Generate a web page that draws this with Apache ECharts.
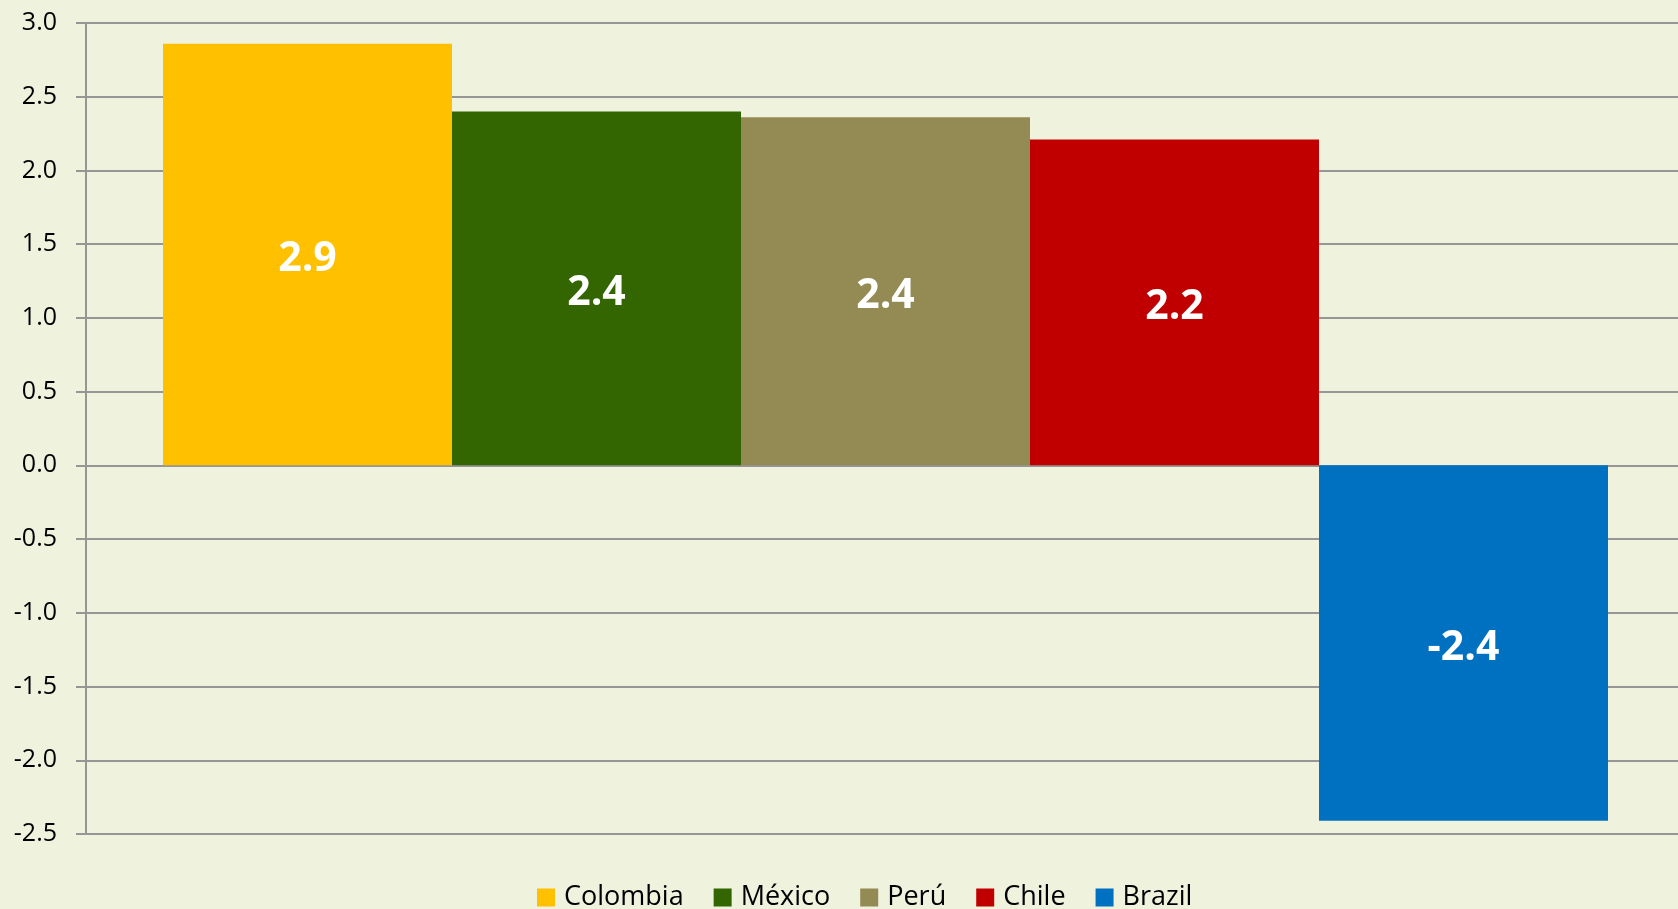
<!DOCTYPE html>
<html>
<head>
<meta charset="utf-8">
<script src="https://cdn.jsdelivr.net/npm/echarts@6/dist/echarts.min.js"></script>
<style>
html,body{margin:0;padding:0;background:#EFF2DD;}
#chart{width:1678px;height:909px;}
</style>
</head>
<body>
<div id="chart"></div>
<script>
const categories = [''];
const seriesNames = ['Colombia', 'México', 'Perú', 'Chile', 'Brazil'];
const seriesValues = [2.86, 2.40, 2.36, 2.21, -2.41];
const seriesColors = ['#FFC000', '#336600', '#948A54', '#C00000', '#0070C0'];
const yMin = -2.5, yMax = 3.0, yStep = 0.5;

const gridColor = '#969696';
const chart = echarts.init(document.getElementById('chart'));
chart.setOption({
  animation: false,
  backgroundColor: '#EFF2DD',
  textStyle: { fontFamily: 'Open Sans' },
  grid: { left: 93, right: 0, top: 23, bottom: 75, containLabel: false },
  legend: {
    data: seriesNames,
    left: 532, top: 879,
    itemWidth: 18, itemHeight: 18, itemGap: 30,
    icon: 'rect',
    textStyle: { fontSize: 27, color: '#000', fontFamily: 'Open Sans', padding: [0, 0, 0, 4] }
  },
  xAxis: {
    type: 'category',
    data: categories,
    axisLine: { show: false },
    axisTick: { show: false },
    axisLabel: { show: false }
  },
  yAxis: [{
    type: 'value',
    position: 'left',
    offset: 7,
    min: yMin, max: yMax, interval: yStep,
    axisLine: { show: true, lineStyle: { color: gridColor, width: 2 } },
    axisTick: { show: true, length: 10, lineStyle: { color: gridColor, width: 2 } },
    splitLine: { show: true, lineStyle: { color: gridColor, width: 2 } },
    axisLabel: {
      fontSize: 25, color: '#000', margin: 29, fontFamily: 'Open Sans',
      formatter: v => v.toFixed(1)
    }
  }, {
    type: 'value',
    position: 'left',
    offset: 0,
    min: yMin, max: yMax, interval: yStep,
    axisLine: { show: false },
    axisTick: { show: true, length: 8, lineStyle: { color: gridColor, width: 2 } },
    splitLine: { show: false },
    axisLabel: { show: false }
  }],
  series: seriesNames.map((name, i) => ({
    name: name,
    type: 'bar',
    barGap: '0%',
    barWidth: 289,
    itemStyle: { color: seriesColors[i] },
    label: {
      show: true, position: 'inside', color: '#fff', offset: [0, 5],
      fontSize: 41, fontWeight: 'bold', fontFamily: 'Open Sans',
      formatter: p => p.value.toFixed(1)
    },
    emphasis: { disabled: true },
    data: [seriesValues[i]]
  }))
});
</script>
</body>
</html>
